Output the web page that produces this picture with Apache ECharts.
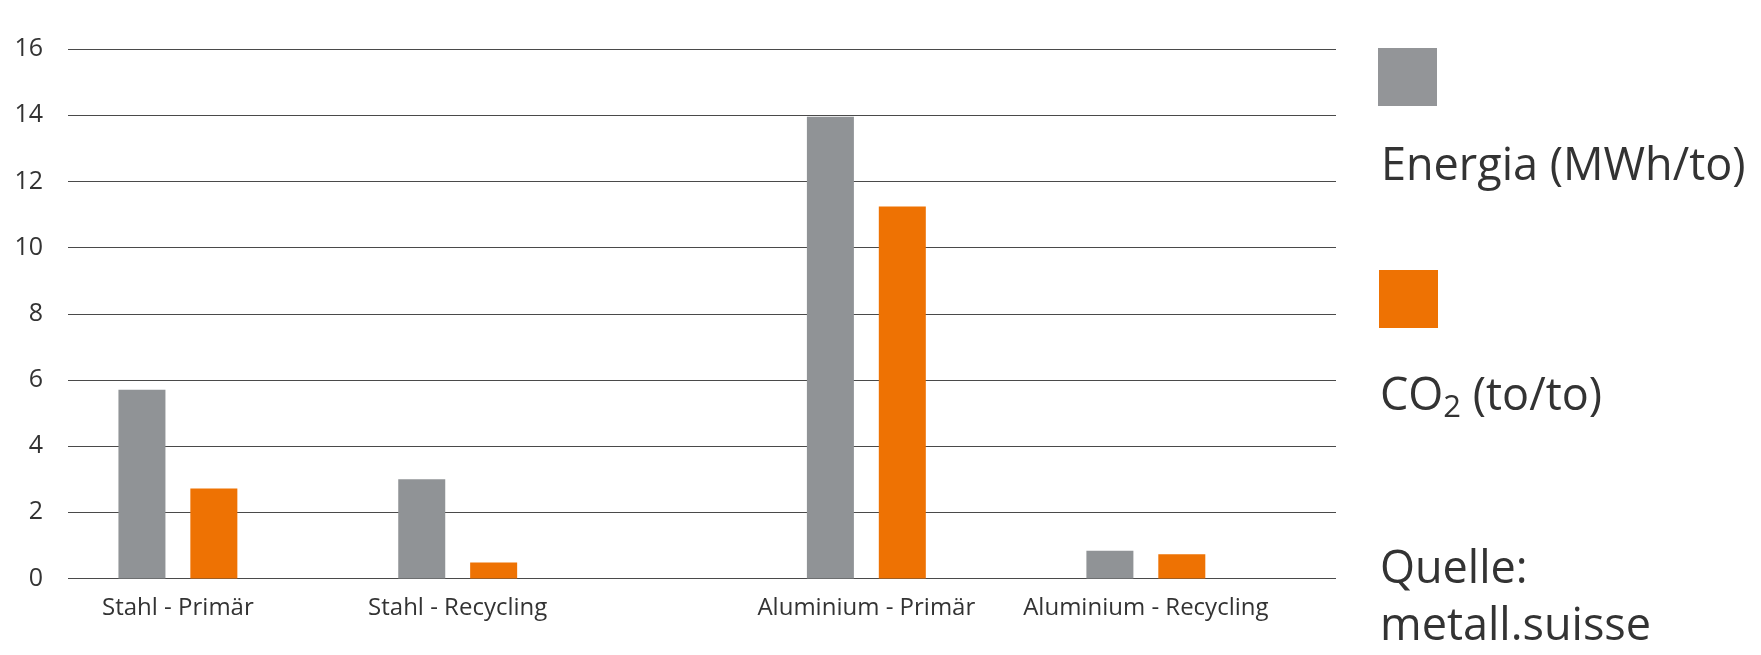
<!DOCTYPE html>
<html>
<head>
<meta charset="utf-8">
<script src="https://cdn.jsdelivr.net/npm/echarts@6/dist/echarts.min.js"></script>
<style>
html,body{margin:0;padding:0;background:#ffffff;}
#chart{width:1761px;height:655px;}
</style>
</head>
<body>
<div id="chart"></div>
<script>
// ---- data ----
const categories = ['Stahl - Primär', 'Stahl - Recycling', 'Aluminium - Primär', 'Aluminium - Recycling'];
const energia = [5.7, 3.0, 13.95, 0.84];
const co2 = [2.72, 0.48, 11.24, 0.73];
const yTicks = [0, 2, 4, 6, 8, 10, 12, 14, 16];
const seriesNames = ['Energia (MWh/to)', 'CO2 (to/to)'];
const sourceLines = ['Quelle:', 'metall.suisse'];

// ---- style ----
const GRAY = '#909396';
const ORANGE = '#ee7203';
const TEXT = '#333333';
const GRID_LINE = '#4a4a4a';
const FONT = '"Open Sans", "Noto Sans", sans-serif';
const TOP = 49, BOTTOM = 76.5;

const yMin = yTicks[0], yMax = yTicks[yTicks.length - 1], yInt = yTicks[1] - yTicks[0];

const chart = echarts.init(document.getElementById('chart'), null, {renderer: 'canvas'});

function hiddenY(i) {
  return {type: 'value', gridIndex: i, min: yMin, max: yMax, interval: yInt, show: false};
}
function catX(i, cats) {
  return {
    type: 'category', gridIndex: i, data: cats,
    axisLine: {show: false}, axisTick: {show: false}, splitLine: {show: false},
    axisLabel: {show: true, color: TEXT, fontFamily: FONT, fontSize: 24, margin: 18, interval: 0}
  };
}
function bar(name, data, axis, color) {
  return {
    type: 'bar', name: name, data: data, xAxisIndex: axis, yAxisIndex: axis,
    barWidth: 47, barGap: '53%', itemStyle: {color: color}, silent: true
  };
}

const option = {
  backgroundColor: '#ffffff',
  animation: false,
  grid: [
    {left: 68, right: 425, top: TOP, bottom: BOTTOM},
    {left: 38, width: 559.6, top: TOP, bottom: BOTTOM},
    {left: 726.6, width: 559, top: TOP, bottom: BOTTOM}
  ],
  xAxis: [
    {type: 'value', gridIndex: 0, show: false, min: 0, max: 1},
    catX(1, categories.slice(0, 2)),
    catX(2, categories.slice(2, 4))
  ],
  yAxis: [
    {
      type: 'value', gridIndex: 0, min: yMin, max: yMax, interval: yInt,
      axisLine: {show: false}, axisTick: {show: false},
      axisLabel: {color: TEXT, fontFamily: FONT, fontSize: 25, margin: 25, padding: [8, 0, 0, 0]},
      splitLine: {show: true, lineStyle: {color: GRID_LINE, width: 1}}
    },
    hiddenY(1),
    hiddenY(2)
  ],
  series: [
    bar(seriesNames[0], energia.slice(0, 2), 1, GRAY),
    bar(seriesNames[1], co2.slice(0, 2), 1, ORANGE),
    bar(seriesNames[0], energia.slice(2, 4), 2, GRAY),
    bar(seriesNames[1], co2.slice(2, 4), 2, ORANGE)
  ],
  graphic: [
    {type: 'rect', shape: {x: 1378, y: 48, width: 59, height: 58}, style: {fill: '#939598'}},
    {type: 'text', style: {x: 1381, y: 167, text: seriesNames[0], fontFamily: FONT, fontSize: 45, fill: TEXT, verticalAlign: 'middle'}},
    {type: 'rect', shape: {x: 1379, y: 270, width: 59, height: 58}, style: {fill: ORANGE}},
    {type: 'text', style: {
      x: 1380, y: 397, verticalAlign: 'middle', fill: TEXT,
      text: '{a|CO}{sub|2}{a|' + seriesNames[1].slice(3) + '}',
      rich: {
        a: {fontFamily: FONT, fontSize: 45, lineHeight: 54, fill: TEXT},
        sub: {fontFamily: FONT, fontSize: 31, lineHeight: 20, verticalAlign: 'bottom', fill: TEXT}
      }
    }},
    {type: 'text', style: {x: 1380, y: 570, text: sourceLines[0], fontFamily: FONT, fontSize: 45, fill: TEXT, verticalAlign: 'middle'}},
    {type: 'text', style: {x: 1380, y: 627, text: sourceLines[1], fontFamily: FONT, fontSize: 45, fill: TEXT, verticalAlign: 'middle'}}
  ]
};
chart.setOption(option);
</script>
</body>
</html>
